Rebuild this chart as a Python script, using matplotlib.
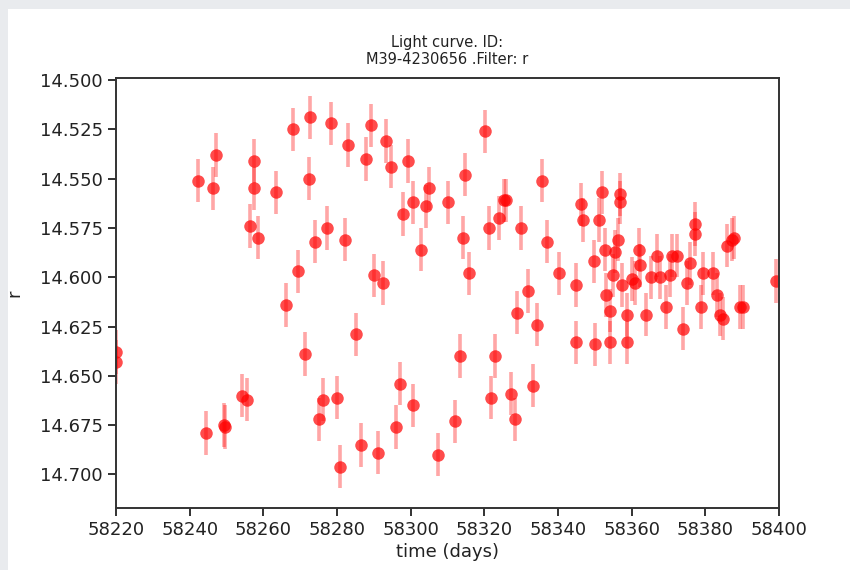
import numpy as np
import matplotlib
matplotlib.use('Agg')
import matplotlib.pyplot as plt
from matplotlib.patches import Rectangle

# Datos de la curva de luz (tiempo MJD, magnitud r)
mjd = [58220.0, 58220.0, 58242.3, 58244.3, 58246.3, 58247.2, 58249.2, 58249.6,
       58254.3, 58255.5, 58256.4, 58257.5, 58257.5, 58258.6, 58263.4, 58266.1,
       58268.0, 58269.3, 58271.4, 58272.4, 58272.8, 58273.9, 58275.1, 58276.1,
       58277.3, 58278.3, 58279.9, 58280.8, 58282.2, 58283.1, 58285.2, 58286.4,
       58287.9, 58289.2, 58290.1, 58291.0, 58292.4, 58293.3, 58294.7, 58295.9,
       58297.1, 58298.0, 58299.2, 58300.5, 58300.7, 58302.8, 58304.1, 58305.0,
       58307.3, 58310.0, 58312.0, 58313.4, 58314.1, 58314.8, 58315.9, 58320.2,
       58321.3, 58321.7, 58322.9, 58324.1, 58325.3, 58326.0, 58327.2, 58328.3,
       58328.8, 58329.9, 58331.9, 58333.1, 58334.2, 58335.7, 58336.9, 58340.3,
       58344.9, 58344.9, 58346.2, 58346.9, 58349.7, 58350.0, 58351.0, 58351.9,
       58352.8, 58352.9, 58354.1, 58354.1, 58355.0, 58355.5, 58356.4, 58356.7,
       58356.9, 58357.3, 58358.8, 58358.8, 58360.0, 58361.0, 58362.0, 58362.2,
       58363.9, 58365.2, 58366.8, 58367.7, 58369.3, 58370.4, 58370.9, 58372.2,
       58374.0, 58374.9, 58375.8, 58377.2, 58377.2, 58378.7, 58379.5, 58382.1,
       58383.1, 58384.1, 58384.7, 58385.9, 58387.2, 58387.8, 58389.4, 58390.3,
       58399.2]
mag = [14.638, 14.643, 14.551, 14.679, 14.555, 14.538, 14.675, 14.676,
       14.660, 14.662, 14.574, 14.541, 14.555, 14.580, 14.557, 14.614,
       14.525, 14.597, 14.639, 14.550, 14.519, 14.582, 14.672, 14.662,
       14.575, 14.522, 14.661, 14.696, 14.581, 14.533, 14.629, 14.685,
       14.540, 14.523, 14.599, 14.689, 14.603, 14.531, 14.544, 14.676,
       14.654, 14.568, 14.541, 14.562, 14.665, 14.586, 14.564, 14.555,
       14.690, 14.562, 14.673, 14.640, 14.580, 14.548, 14.598, 14.526,
       14.575, 14.661, 14.640, 14.570, 14.561, 14.561, 14.659, 14.672,
       14.618, 14.575, 14.607, 14.655, 14.624, 14.551, 14.582, 14.598,
       14.604, 14.633, 14.563, 14.571, 14.592, 14.634, 14.571, 14.557,
       14.586, 14.609, 14.617, 14.633, 14.599, 14.587, 14.581, 14.558,
       14.562, 14.604, 14.619, 14.633, 14.601, 14.603, 14.586, 14.594,
       14.619, 14.600, 14.589, 14.600, 14.615, 14.599, 14.589, 14.589,
       14.626, 14.603, 14.593, 14.578, 14.573, 14.615, 14.598, 14.598,
       14.609, 14.619, 14.621, 14.584, 14.581, 14.580, 14.615, 14.615,
       14.602]
mag_err = [0.011] * len(mag)

x_ticks = [58220, 58240, 58260, 58280, 58300, 58320, 58340, 58360, 58380, 58400]
y_ticks = [14.500, 14.525, 14.550, 14.575, 14.600, 14.625, 14.650, 14.675, 14.700]

fig = plt.figure(figsize=(8.5, 5.7), dpi=100, facecolor='#e9ebee')
# Marco blanco de la captura (detras de los ejes)
fondo = Rectangle((8 / 850, 0), 1, 1 - 9 / 570, transform=fig.transFigure,
                  facecolor='white', edgecolor='none', zorder=-10)
fig.add_artist(fondo)

ax = fig.add_axes([116 / 850, 62 / 570, 663 / 850, 430 / 570])
# Barras de error mas claras y puntos mas intensos
ax.errorbar(mjd, mag, yerr=mag_err, fmt='none', ecolor='red', alpha=0.35,
            elinewidth=2.6, capsize=0)
ax.plot(mjd, mag, 'o', color='red', alpha=0.7, markersize=9, markeredgewidth=0)

ax.set_xlim(58220, 58400)
ax.set_ylim(14.717, 14.499)
ax.set_xticks(x_ticks)
ax.set_yticks(y_ticks)
ax.tick_params(labelsize=13, length=6, width=1.3, colors='#222222')
for s in ax.spines.values():
    s.set_linewidth(1.4)
    s.set_color('#333333')

ax.set_title('Light curve. ID:\nM39-4230656 .Filter: r', fontsize=10.5, pad=10, color='#222222')
ax.set_xlabel('time (days)', fontsize=13, labelpad=3, color='#222222')
ax.set_ylabel('r', fontsize=13, labelpad=12, color='#222222')

plt.savefig('out.png', dpi=100, facecolor=fig.get_facecolor())
